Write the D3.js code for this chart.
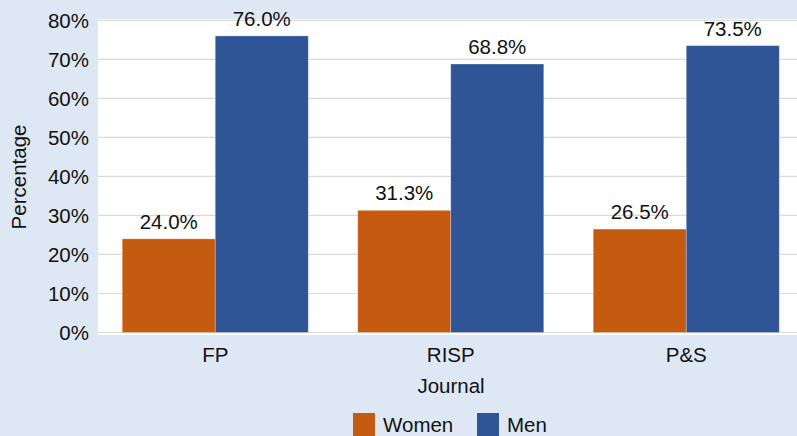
<!DOCTYPE html>
<html>
<head>
<meta charset="utf-8">
<script src="https://cdn.jsdelivr.net/npm/d3@7/dist/d3.min.js"></script>
<style>
  html, body { margin: 0; padding: 0; background: #dde8f4; }
  svg { display: block; }
  text { font-family: "Liberation Sans", Arial, Helvetica, sans-serif; fill: #111; }
</style>
</head>
<body>
<svg id="chart" width="797" height="436"></svg>
<script>
// Share of authors by gender in each journal
const journals = ["FP", "RISP", "P&S"];
const groups = ["Women", "Men"];
const women = [24.0, 31.3, 26.5];
const men = [76.0, 68.8, 73.5];
const yTicks = [0, 10, 20, 30, 40, 50, 60, 70, 80];
const colors = ["#c55a11", "#2f5597"];

const rows = journals.map((j, i) => ({ journal: j, values: [women[i], men[i]] }));

const W = 797, H = 436;
const plot = { left: 98, top: 19, right: 804, bottom: 335 };
const FS = 20.5;

const svg = d3.select("#chart");

svg.append("rect")
  .attr("width", W).attr("height", H)
  .attr("fill", "#dde8f4");

// white plotting region
svg.append("rect")
  .attr("x", plot.left).attr("y", plot.top)
  .attr("width", plot.right - plot.left)
  .attr("height", plot.bottom - plot.top)
  .attr("fill", "#ffffff");

const y = d3.scaleLinear().domain([0, 80]).range([332.5, 20.3]);

const x = d3.scaleBand()
  .domain(journals)
  .range([97.5, 804])
  .paddingInner(0.21)
  .paddingOuter(0.105);

const xSub = d3.scaleBand()
  .domain(groups)
  .range([0, x.bandwidth()])
  .padding(0);

// horizontal gridlines
svg.append("g")
  .selectAll("line")
  .data(yTicks)
  .join("line")
  .attr("x1", plot.left).attr("x2", plot.right)
  .attr("y1", d => y(d)).attr("y2", d => y(d))
  .attr("stroke", "#d9d9d9")
  .attr("stroke-width", 1.2);

// y axis labels
const yAxis = d3.axisLeft(y)
  .tickValues(yTicks)
  .tickFormat(d => d + "%")
  .tickSize(0)
  .tickPadding(9);

const gy = svg.append("g")
  .attr("transform", `translate(${plot.left},0)`)
  .call(yAxis);
gy.select(".domain").remove();
gy.selectAll("text")
  .attr("font-size", FS)
  .attr("font-family", "Liberation Sans, Arial, sans-serif")
  .attr("fill", "#111")
  .attr("dy", "0.36em");

// x axis labels
const xAxis = d3.axisBottom(x).tickSize(0).tickPadding(12);
const gx = svg.append("g")
  .attr("transform", `translate(0,${plot.bottom})`)
  .call(xAxis);
gx.select(".domain").remove();
gx.selectAll("text")
  .attr("font-size", FS)
  .attr("font-family", "Liberation Sans, Arial, sans-serif")
  .attr("fill", "#111")
  .attr("dy", "0.71em");

// bars
const grp = svg.append("g")
  .selectAll("g")
  .data(rows)
  .join("g")
  .attr("transform", d => `translate(${x(d.journal)},0)`);

grp.selectAll("rect")
  .data(d => d.values.map((v, k) => ({ key: groups[k], value: v, k })))
  .join("rect")
  .attr("x", d => xSub(d.key))
  .attr("y", d => y(d.value))
  .attr("width", xSub.bandwidth())
  .attr("height", d => y(0) - y(d.value))
  .attr("fill", d => colors[d.k])
  .attr("stroke", "rgba(255,255,255,0.35)")
  .attr("stroke-width", 0.8);

// value labels
grp.selectAll("text.val")
  .data(d => d.values.map((v, k) => ({ key: groups[k], value: v })))
  .join("text")
  .attr("class", "val")
  .attr("x", d => xSub(d.key) + xSub.bandwidth() / 2)
  .attr("y", d => y(d.value) - 10)
  .attr("text-anchor", "middle")
  .attr("font-size", FS)
  .text(d => d.value.toFixed(1) + "%");

// axis titles
svg.append("text")
  .attr("transform", `translate(26,${(plot.top + plot.bottom) / 2}) rotate(-90)`)
  .attr("text-anchor", "middle")
  .attr("font-size", FS)
  .text("Percentage");

svg.append("text")
  .attr("x", 451)
  .attr("y", 393)
  .attr("text-anchor", "middle")
  .attr("font-size", FS)
  .text("Journal");

// legend
const legend = svg.append("g")
  .selectAll("g")
  .data(groups)
  .join("g")
  .attr("transform", (d, i) => `translate(${i === 0 ? 353 : 477},413)`);

legend.append("rect")
  .attr("width", 22).attr("height", 23)
  .attr("fill", (d, i) => colors[i]);

legend.append("text")
  .attr("x", 30)
  .attr("y", 18.5)
  .attr("font-size", FS)
  .text(d => d);
</script>
</body>
</html>
